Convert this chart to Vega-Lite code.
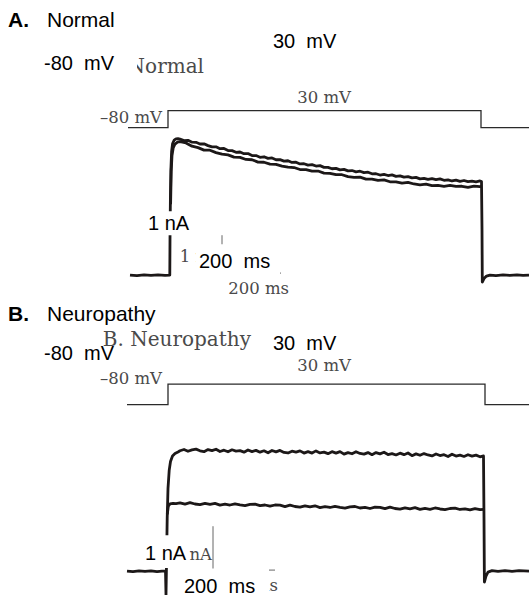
{
  "$schema": "https://vega.github.io/schema/vega-lite/v6.json",
  "width": 529,
  "height": 597,
  "autosize": {"type": "fit", "contains": "padding"},
  "padding": 0,
  "background": "white",
  "config": {"view": {"stroke": null}},
  "datasets": {
    "current": [
      {"id":"A1","x":130,"y":276},{"id":"A1","x":137,"y":276.6},{"id":"A1","x":144,"y":275.7},{"id":"A1","x":151,"y":276.4},{"id":"A1","x":158,"y":275.8},{"id":"A1","x":165,"y":276.3},{"id":"A1","x":169.8,"y":276},
      {"id":"A1","x":170,"y":240},{"id":"A1","x":170.4,"y":200},{"id":"A1","x":170.9,"y":170},{"id":"A1","x":171.6,"y":152},{"id":"A1","x":172.6,"y":144},{"id":"A1","x":174.2,"y":140.6},{"id":"A1","x":176,"y":139.3},{"id":"A1","x":178,"y":139.2},{"id":"A1","x":180,"y":139.6},
      {"id":"A1","x":184,"y":141},{"id":"A1","x":188,"y":140.8},{"id":"A1","x":192,"y":142.7},{"id":"A1","x":196,"y":142.8},{"id":"A1","x":200,"y":144.5},{"id":"A1","x":204,"y":144.3},{"id":"A1","x":208,"y":146.1},{"id":"A1","x":212,"y":147.3},{"id":"A1","x":216,"y":147.3},{"id":"A1","x":220,"y":149.2},{"id":"A1","x":224,"y":149},{"id":"A1","x":228,"y":151},{"id":"A1","x":232,"y":151.1},{"id":"A1","x":236,"y":152.8},{"id":"A1","x":240,"y":152.5},{"id":"A1","x":244,"y":154.2},{"id":"A1","x":248,"y":154.1},{"id":"A1","x":252,"y":156},{"id":"A1","x":256,"y":156.1},{"id":"A1","x":260,"y":157.8},{"id":"A1","x":264,"y":157.3},{"id":"A1","x":268,"y":158.9},{"id":"A1","x":272,"y":158.5},{"id":"A1","x":276,"y":160.3},{"id":"A1","x":280,"y":160.2},{"id":"A1","x":284,"y":161.7},{"id":"A1","x":288,"y":161.3},{"id":"A1","x":292,"y":163},{"id":"A1","x":296,"y":162.7},{"id":"A1","x":300,"y":164.5},{"id":"A1","x":304,"y":164.3},{"id":"A1","x":308,"y":165.7},{"id":"A1","x":312,"y":165.2},{"id":"A1","x":316,"y":166.6},{"id":"A1","x":320,"y":166.2},{"id":"A1","x":324,"y":167.9},{"id":"A1","x":328,"y":167.9},{"id":"A1","x":332,"y":169.3},{"id":"A1","x":336,"y":168.9},{"id":"A1","x":340,"y":170.4},{"id":"A1","x":344,"y":169.9},{"id":"A1","x":348,"y":171.4},{"id":"A1","x":352,"y":171.1},{"id":"A1","x":356,"y":172.4},{"id":"A1","x":360,"y":171.8},{"id":"A1","x":364,"y":173.2},{"id":"A1","x":368,"y":172.8},{"id":"A1","x":372,"y":174.4},{"id":"A1","x":376,"y":174.3},{"id":"A1","x":380,"y":175.6},{"id":"A1","x":384,"y":174.9},{"id":"A1","x":388,"y":176.1},{"id":"A1","x":392,"y":175.5},{"id":"A1","x":396,"y":176.9},{"id":"A1","x":400,"y":176.5},{"id":"A1","x":404,"y":177.8},{"id":"A1","x":408,"y":177.2},{"id":"A1","x":412,"y":178.5},{"id":"A1","x":416,"y":178},{"id":"A1","x":420,"y":179.5},{"id":"A1","x":424,"y":179},{"id":"A1","x":428,"y":180},{"id":"A1","x":432,"y":179.2},{"id":"A1","x":436,"y":180.3},{"id":"A1","x":440,"y":179.5},{"id":"A1","x":444,"y":180.9},{"id":"A1","x":448,"y":180.4},{"id":"A1","x":452,"y":181.6},{"id":"A1","x":456,"y":180.8},{"id":"A1","x":460,"y":182},{"id":"A1","x":464,"y":181.1},{"id":"A1","x":468,"y":182.3},{"id":"A1","x":472,"y":181.7},{"id":"A1","x":476,"y":182.4},{"id":"A1","x":480,"y":181.6},{"id":"A1","x":481.5,"y":182.2},
      {"id":"A1","x":482,"y":230},{"id":"A1","x":482.3,"y":283},{"id":"A1","x":484,"y":279.5},{"id":"A1","x":486.5,"y":277},{"id":"A1","x":490,"y":276},{"id":"A1","x":496,"y":276.5},{"id":"A1","x":503,"y":275.8},{"id":"A1","x":510,"y":276.4},{"id":"A1","x":517,"y":275.9},{"id":"A1","x":523,"y":276.3},{"id":"A1","x":529,"y":276},
      {"id":"A2","x":170.6,"y":205},{"id":"A2","x":171.2,"y":172},{"id":"A2","x":172,"y":156},{"id":"A2","x":173.2,"y":148.5},{"id":"A2","x":175,"y":144.5},{"id":"A2","x":177.5,"y":142.6},{"id":"A2","x":180,"y":142.2},
      {"id":"A2","x":186,"y":143.4},{"id":"A2","x":192,"y":146.7},{"id":"A2","x":198,"y":148.1},{"id":"A2","x":204,"y":150.6},{"id":"A2","x":210,"y":150.7},{"id":"A2","x":216,"y":153.1},{"id":"A2","x":222,"y":154.7},{"id":"A2","x":228,"y":155.4},{"id":"A2","x":234,"y":157.7},{"id":"A2","x":240,"y":157.9},{"id":"A2","x":246,"y":160},{"id":"A2","x":252,"y":160.3},{"id":"A2","x":258,"y":162.7},{"id":"A2","x":264,"y":162.8},{"id":"A2","x":270,"y":164.7},{"id":"A2","x":276,"y":164.9},{"id":"A2","x":282,"y":166.6},{"id":"A2","x":288,"y":167.7},{"id":"A2","x":294,"y":168.1},{"id":"A2","x":300,"y":170.1},{"id":"A2","x":306,"y":170.1},{"id":"A2","x":312,"y":171.6},{"id":"A2","x":318,"y":171.6},{"id":"A2","x":324,"y":173.7},{"id":"A2","x":330,"y":173.9},{"id":"A2","x":336,"y":175.3},{"id":"A2","x":342,"y":175.3},{"id":"A2","x":348,"y":177.2},{"id":"A2","x":354,"y":177.9},{"id":"A2","x":360,"y":177.7},{"id":"A2","x":366,"y":179.7},{"id":"A2","x":372,"y":179.7},{"id":"A2","x":378,"y":180.9},{"id":"A2","x":384,"y":180.5},{"id":"A2","x":390,"y":182.4},{"id":"A2","x":396,"y":182.4},{"id":"A2","x":402,"y":183.8},{"id":"A2","x":408,"y":183},{"id":"A2","x":414,"y":184.6},{"id":"A2","x":420,"y":185.5},{"id":"A2","x":426,"y":184.8},{"id":"A2","x":432,"y":186.2},{"id":"A2","x":438,"y":185.9},{"id":"A2","x":444,"y":186.9},{"id":"A2","x":450,"y":186},{"id":"A2","x":456,"y":187.1},{"id":"A2","x":462,"y":186.9},{"id":"A2","x":468,"y":187.9},{"id":"A2","x":474,"y":186.7},{"id":"A2","x":480,"y":187.3},{"id":"A2","x":481.8,"y":187},
      {"id":"B1","x":127,"y":573},{"id":"B1","x":133,"y":573.6},{"id":"B1","x":139,"y":572.7},{"id":"B1","x":145,"y":573.4},{"id":"B1","x":151,"y":572.8},{"id":"B1","x":157,"y":573.5},{"id":"B1","x":162,"y":573},{"id":"B1","x":165.5,"y":573},
      {"id":"B1","x":166,"y":597},{"id":"B1","x":166.6,"y":560},{"id":"B1","x":167.2,"y":520},{"id":"B1","x":168,"y":490},{"id":"B1","x":169.2,"y":472},{"id":"B1","x":170.5,"y":463},{"id":"B1","x":172.5,"y":457.5},{"id":"B1","x":175,"y":455},{"id":"B1","x":178,"y":453.5},
      {"id":"B1","x":180,"y":452.3},{"id":"B1","x":184,"y":451},{"id":"B1","x":188,"y":452.8},{"id":"B1","x":192,"y":451.4},{"id":"B1","x":196,"y":450.6},{"id":"B1","x":200,"y":452.3},{"id":"B1","x":204,"y":453.2},{"id":"B1","x":208,"y":451.1},{"id":"B1","x":212,"y":452.2},{"id":"B1","x":216,"y":450.7},{"id":"B1","x":220,"y":453},{"id":"B1","x":224,"y":451.7},{"id":"B1","x":228,"y":453.3},{"id":"B1","x":232,"y":451.3},{"id":"B1","x":236,"y":452.6},{"id":"B1","x":240,"y":452.2},{"id":"B1","x":244,"y":453.7},{"id":"B1","x":248,"y":451.5},{"id":"B1","x":252,"y":453.1},{"id":"B1","x":256,"y":451.9},{"id":"B1","x":260,"y":453.7},{"id":"B1","x":264,"y":452.3},{"id":"B1","x":268,"y":454.3},{"id":"B1","x":272,"y":452},{"id":"B1","x":276,"y":453.4},{"id":"B1","x":280,"y":451.9},{"id":"B1","x":284,"y":453.9},{"id":"B1","x":288,"y":454.5},{"id":"B1","x":292,"y":452.7},{"id":"B1","x":296,"y":453.6},{"id":"B1","x":300,"y":452.4},{"id":"B1","x":304,"y":454.6},{"id":"B1","x":308,"y":453.2},{"id":"B1","x":312,"y":454.6},{"id":"B1","x":316,"y":452.4},{"id":"B1","x":320,"y":454.4},{"id":"B1","x":324,"y":453.7},{"id":"B1","x":328,"y":455.2},{"id":"B1","x":332,"y":453.2},{"id":"B1","x":336,"y":454.6},{"id":"B1","x":340,"y":453.1},{"id":"B1","x":344,"y":455.7},{"id":"B1","x":348,"y":454.1},{"id":"B1","x":352,"y":455.3},{"id":"B1","x":356,"y":453.3},{"id":"B1","x":360,"y":455},{"id":"B1","x":364,"y":455.7},{"id":"B1","x":368,"y":454.1},{"id":"B1","x":372,"y":456.2},{"id":"B1","x":376,"y":454.1},{"id":"B1","x":380,"y":455.4},{"id":"B1","x":384,"y":453.8},{"id":"B1","x":388,"y":456.1},{"id":"B1","x":392,"y":455.1},{"id":"B1","x":396,"y":456.5},{"id":"B1","x":400,"y":454.7},{"id":"B1","x":404,"y":456.2},{"id":"B1","x":408,"y":454.5},{"id":"B1","x":412,"y":457.2},{"id":"B1","x":416,"y":455.4},{"id":"B1","x":420,"y":456.8},{"id":"B1","x":424,"y":455.1},{"id":"B1","x":428,"y":456.5},{"id":"B1","x":432,"y":457.5},{"id":"B1","x":436,"y":455.5},{"id":"B1","x":440,"y":457.1},{"id":"B1","x":444,"y":456.2},{"id":"B1","x":448,"y":458},{"id":"B1","x":452,"y":455.7},{"id":"B1","x":456,"y":457.6},{"id":"B1","x":460,"y":456.7},{"id":"B1","x":464,"y":458},{"id":"B1","x":468,"y":456.3},{"id":"B1","x":472,"y":457.7},{"id":"B1","x":476,"y":456.7},{"id":"B1","x":480,"y":458.3},{"id":"B1","x":483.5,"y":457.5},
      {"id":"B1","x":484,"y":520},{"id":"B1","x":484.4,"y":584},{"id":"B1","x":486,"y":578},{"id":"B1","x":488,"y":574},{"id":"B1","x":492,"y":572.6},{"id":"B1","x":498,"y":573.3},{"id":"B1","x":505,"y":572.5},{"id":"B1","x":512,"y":573.2},{"id":"B1","x":519,"y":572.6},{"id":"B1","x":529,"y":573.1},
      {"id":"B2","x":167.3,"y":516},{"id":"B2","x":168.3,"y":508},{"id":"B2","x":170,"y":505.6},{"id":"B2","x":173,"y":505},{"id":"B2","x":176,"y":505.3},
      {"id":"B2","x":180,"y":504.6},{"id":"B2","x":185,"y":505.9},{"id":"B2","x":190,"y":504.4},{"id":"B2","x":195,"y":505.7},{"id":"B2","x":200,"y":506.3},{"id":"B2","x":205,"y":505},{"id":"B2","x":210,"y":506.1},{"id":"B2","x":215,"y":505},{"id":"B2","x":220,"y":506.8},{"id":"B2","x":225,"y":505.8},{"id":"B2","x":230,"y":506.7},{"id":"B2","x":235,"y":505.5},{"id":"B2","x":240,"y":506.5},{"id":"B2","x":245,"y":507.3},{"id":"B2","x":250,"y":506.1},{"id":"B2","x":255,"y":505.8},{"id":"B2","x":260,"y":507.3},{"id":"B2","x":265,"y":506.7},{"id":"B2","x":270,"y":507.9},{"id":"B2","x":275,"y":506.7},{"id":"B2","x":280,"y":506.9},{"id":"B2","x":285,"y":508.3},{"id":"B2","x":290,"y":506.8},{"id":"B2","x":295,"y":508.2},{"id":"B2","x":300,"y":508.8},{"id":"B2","x":305,"y":507.5},{"id":"B2","x":310,"y":508.6},{"id":"B2","x":315,"y":507.5},{"id":"B2","x":320,"y":509.3},{"id":"B2","x":325,"y":508.3},{"id":"B2","x":330,"y":509.2},{"id":"B2","x":335,"y":508},{"id":"B2","x":340,"y":509},{"id":"B2","x":345,"y":509.8},{"id":"B2","x":350,"y":508.6},{"id":"B2","x":355,"y":508.2},{"id":"B2","x":360,"y":509.7},{"id":"B2","x":365,"y":509},{"id":"B2","x":370,"y":510.2},{"id":"B2","x":375,"y":508.9},{"id":"B2","x":380,"y":509.1},{"id":"B2","x":385,"y":510.4},{"id":"B2","x":390,"y":508.9},{"id":"B2","x":395,"y":510.2},{"id":"B2","x":400,"y":510.8},{"id":"B2","x":405,"y":509.5},{"id":"B2","x":410,"y":510.5},{"id":"B2","x":415,"y":509.4},{"id":"B2","x":420,"y":511.1},{"id":"B2","x":425,"y":510.1},{"id":"B2","x":430,"y":511},{"id":"B2","x":435,"y":509.7},{"id":"B2","x":440,"y":510.7},{"id":"B2","x":445,"y":511.4},{"id":"B2","x":450,"y":510.2},{"id":"B2","x":455,"y":509.8},{"id":"B2","x":460,"y":511.2},{"id":"B2","x":465,"y":510.5},{"id":"B2","x":470,"y":511.6},{"id":"B2","x":475,"y":510.3},{"id":"B2","x":480,"y":511.4},{"id":"B2","x":483.8,"y":511}
    ],
    "voltage": [
      {"id":"A","x":128,"y":128},{"id":"A","x":168,"y":128},{"id":"A","x":168,"y":111},{"id":"A","x":481,"y":111},{"id":"A","x":481,"y":128},{"id":"A","x":529,"y":128},
      {"id":"B","x":127,"y":406},{"id":"B","x":168,"y":406},{"id":"B","x":168,"y":385.5},{"id":"B","x":485,"y":385.5},{"id":"B","x":485,"y":406},{"id":"B","x":529,"y":406}
    ],
    "bars": [
      {"x":222,"x2":222,"y":236,"y2":274},
      {"x":222,"x2":281,"y":274,"y2":274},
      {"x":213,"x2":213,"y":528,"y2":572},
      {"x":213,"x2":275,"y":572,"y2":572}
    ],
    "boxes": [
      {"x":40,"x2":137,"y":52,"y2":78},
      {"x":146,"x2":193,"y":212,"y2":236},
      {"x":196,"x2":280,"y":245,"y2":282},
      {"x":143,"x2":188,"y":537,"y2":570},
      {"x":182,"x2":269,"y":570.5,"y2":597}
    ],
    "serifBig": [
      {"x":204,"y":73.5,"text":"A. Normal"},
      {"x":251,"y":347,"text":"B. Neuropathy"}
    ],
    "serifSmall": [
      {"x":351,"y":103,"text":"30 mV"},
      {"x":162,"y":123,"text":"–80 mV"},
      {"x":218,"y":263,"text":"1 nA"},
      {"x":289,"y":295,"text":"200 ms"},
      {"x":351,"y":372.5,"text":"30 mV"},
      {"x":162,"y":385,"text":"–80 mV"},
      {"x":212,"y":562,"text":"1 nA"},
      {"x":278,"y":593,"text":"200 ms"}
    ],
    "bold": [
      {"x":8,"y":27,"text":"A."},
      {"x":8,"y":322,"text":"B."}
    ],
    "titles": [
      {"x":47,"y":27,"text":"Normal"},
      {"x":47,"y":322,"text":"Neuropathy"}
    ],
    "labels": [
      {"x":273,"y":48,"text":"30 \u00a0mV"},
      {"x":44,"y":70,"text":"-80 \u00a0mV"},
      {"x":148,"y":230.5,"text":"1 nA"},
      {"x":199,"y":269,"text":"200 \u00a0ms"},
      {"x":273,"y":351,"text":"30 \u00a0mV"},
      {"x":44,"y":361.5,"text":"-80 \u00a0mV"},
      {"x":145,"y":562,"text":"1 nA"},
      {"x":184,"y":595,"text":"200 \u00a0ms"}
    ]
  },
  "encoding": {
    "x": {"field": "x", "type": "quantitative", "scale": {"domain": [0, 529], "nice": false, "zero": false}, "axis": null},
    "y": {"field": "y", "type": "quantitative", "scale": {"domain": [0, 597], "nice": false, "zero": false, "reverse": true}, "axis": null}
  },
  "layer": [
    {
      "data": {"name": "voltage"},
      "mark": {"type": "line", "strokeWidth": 1.3, "color": "#2a2a2a", "strokeJoin": "miter", "clip": true},
      "encoding": {"detail": {"field": "id"}, "order": {"value": null}}
    },
    {
      "data": {"name": "current"},
      "mark": {"type": "line", "strokeWidth": 2.8, "color": "#1c1818", "strokeJoin": "round", "clip": true},
      "encoding": {"detail": {"field": "id"}, "order": {"value": null}}
    },
    {
      "data": {"name": "bars"},
      "mark": {"type": "rule", "strokeWidth": 1, "color": "#666666"},
      "encoding": {"x2": {"field": "x2"}, "y2": {"field": "y2"}}
    },
    {
      "data": {"name": "serifBig"},
      "mark": {"type": "text", "font": "DejaVu Serif", "fontSize": 20, "color": "#4a4a4a", "align": "right", "baseline": "alphabetic"},
      "encoding": {"text": {"field": "text"}}
    },
    {
      "data": {"name": "serifSmall"},
      "mark": {"type": "text", "font": "DejaVu Serif", "fontSize": 16.5, "color": "#4a4a4a", "align": "right", "baseline": "alphabetic"},
      "encoding": {"text": {"field": "text"}}
    },
    {
      "data": {"name": "boxes"},
      "mark": {"type": "rect", "color": "white", "opacity": 1},
      "encoding": {"x2": {"field": "x2"}, "y2": {"field": "y2"}}
    },
    {
      "data": {"name": "bold"},
      "mark": {"type": "text", "font": "Liberation Sans", "fontSize": 21, "fontWeight": "bold", "color": "black", "align": "left", "baseline": "alphabetic"},
      "encoding": {"text": {"field": "text"}}
    },
    {
      "data": {"name": "titles"},
      "mark": {"type": "text", "font": "Liberation Sans", "fontSize": 21, "color": "black", "align": "left", "baseline": "alphabetic"},
      "encoding": {"text": {"field": "text"}}
    },
    {
      "data": {"name": "labels"},
      "mark": {"type": "text", "font": "Liberation Sans", "fontSize": 20, "color": "black", "align": "left", "baseline": "alphabetic"},
      "encoding": {"text": {"field": "text"}}
    }
  ]
}
